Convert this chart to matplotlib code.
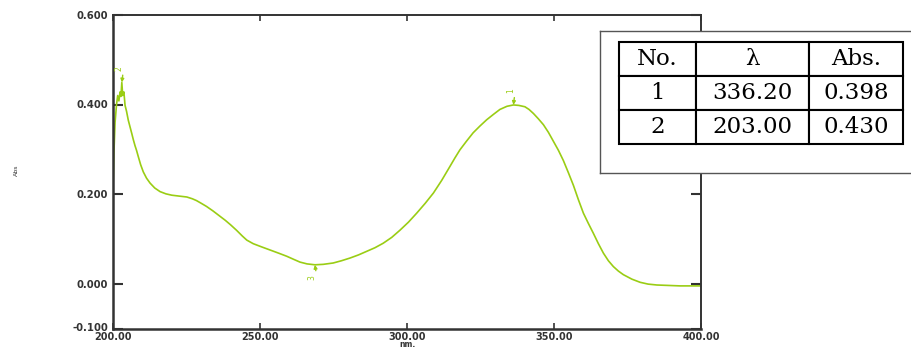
import numpy as np
import matplotlib.pyplot as plt
from matplotlib.transforms import ScaledTranslation

# spectrum (nm, Abs)
wavelength = [200.0, 200.3, 200.7, 201.2, 201.6, 202.0, 202.4, 202.7, 203.0, 203.3,
              203.7, 204.1, 204.6, 205.2, 205.8, 206.4, 206.9, 207.5, 208.0, 208.6,
              209.4, 210.3, 211.4, 212.6, 214.2, 216.0, 218.0, 220.0, 222.5, 225.1,
              227.0, 228.4, 230.0, 231.8, 234.0, 236.4, 238.2, 240.0, 242.0, 244.0,
              245.5, 247.7, 250.5, 253.4, 256.3, 259.1, 261.5, 263.6, 266.0, 268.7,
              271.5, 274.9, 277.7, 280.6, 283.5, 286.3, 289.1, 291.9, 294.8, 297.6,
              300.5, 303.3, 306.2, 309.0, 311.8, 314.6, 316.3, 318.0, 320.2, 322.5,
              324.8, 327.1, 329.4, 331.6, 334.0, 336.2, 338.0, 340.1, 341.5, 343.0,
              344.7, 346.4, 348.1, 349.8, 351.5, 353.2, 354.9, 356.6, 358.3, 360.0,
              361.7, 363.4, 365.1, 366.8, 368.5, 370.2, 371.9, 373.6, 376.5, 379.3,
              382.0, 385.0, 389.0, 392.9, 396.0, 400.0]
absorbance = [0.210, 0.290, 0.360, 0.400, 0.420, 0.408, 0.428, 0.418, 0.449, 0.420,
              0.428, 0.398, 0.385, 0.365, 0.350, 0.335, 0.322, 0.308, 0.298, 0.284,
              0.266, 0.250, 0.236, 0.225, 0.214, 0.206, 0.201, 0.198, 0.196, 0.194,
              0.190, 0.186, 0.180, 0.173, 0.163, 0.151, 0.142, 0.132, 0.120, 0.107,
              0.098, 0.090, 0.083, 0.076, 0.069, 0.062, 0.055, 0.049, 0.045, 0.043,
              0.044, 0.047, 0.052, 0.058, 0.065, 0.073, 0.081, 0.091, 0.104, 0.120,
              0.138, 0.158, 0.180, 0.203, 0.231, 0.262, 0.281, 0.299, 0.318, 0.337,
              0.352, 0.366, 0.378, 0.389, 0.396, 0.399, 0.398, 0.395, 0.389, 0.380,
              0.368, 0.355, 0.338, 0.318, 0.298, 0.275, 0.248, 0.220, 0.188, 0.158,
              0.135, 0.113, 0.090, 0.069, 0.052, 0.039, 0.029, 0.021, 0.011, 0.004,
              0.000, -0.002, -0.003, -0.004, -0.004, -0.004]

# picked peaks / valley
pick_no = ['1', '2', '3']
pick_nm = [336.2, 203.0, 268.7]
pick_abs = [0.399, 0.449, 0.043]
pick_is_valley = [False, False, True]

# peak table
table_header = ['No.', 'λ', 'Abs.']
table_rows = [['1', '336.20', '0.398'],
              ['2', '203.00', '0.430']]

x_ticks = [200, 250, 300, 350, 400]
y_ticks = [-0.1, 0.0, 0.2, 0.4, 0.6]

line_color = '#9acd14'
axis_color = '#333333'

fig = plt.figure(figsize=(9.11, 3.49), dpi=100)
ax = fig.add_axes([113 / 911, 20 / 349, 588 / 911, 314.3 / 349])

ax.plot(wavelength, absorbance, color=line_color, lw=1.2)

for no, nm, val, valley in zip(pick_no, pick_nm, pick_abs, pick_is_valley):
    off = -9 if valley else 10
    ax.annotate(no, xy=(nm, val), xytext=(-2, off),
                textcoords='offset points', rotation=90, fontsize=5.5,
                color=line_color, ha='center', va='center',
                arrowprops=dict(arrowstyle='-|>', color=line_color, lw=1.0,
                                mutation_scale=5, shrinkA=1, shrinkB=0,
                                relpos=(1.0, 0.5)))

ax.set_xlim(200, 400)
ax.set_ylim(-0.1, 0.6)
ax.set_xticks(x_ticks)
ax.set_xticklabels(['%.2f' % v for v in x_ticks])
ax.set_yticks(y_ticks)
ax.set_yticklabels(['%.3f' % v for v in y_ticks])

for s in ax.spines.values():
    s.set_color(axis_color)
    s.set_linewidth(1.4)
ax.spines['left'].set_linewidth(1.8)
ax.spines['bottom'].set_linewidth(1.8)

ax.tick_params(axis='y', direction='in', length=7, width=1.5, right=True,
               pad=3.5, labelsize=7.2, colors=axis_color)
ax.tick_params(axis='x', direction='in', length=4, width=1.2, top=True,
               pad=2, labelsize=7, colors=axis_color)
for lbl in ax.get_xticklabels() + ax.get_yticklabels():
    lbl.set_fontweight('bold')
# nudge the bottom y label up a touch so it clears "200.00"
low = ax.get_yticklabels()[0]
low.set_transform(low.get_transform() + ScaledTranslation(0, 2 / 100, fig.dpi_scale_trans))

# axis titles (the x one sits right at the bottom edge)
fig.text(407 / 911, 0, 'nm.', fontsize=5.5, color=axis_color,
         fontweight='bold', ha='center', va='bottom')
fig.text(16 / 911, 1 - 170 / 349, 'Abs', rotation=90, fontsize=4.5,
         ha='center', va='center', color=axis_color)

# boxed peak table, overlapping the plot and running off the right edge
tab_ax = fig.add_axes([600 / 911, 1 - 172.7 / 349, 330 / 911, 142 / 349])
tab_ax.set_facecolor('white')
tab_ax.set_xticks([])
tab_ax.set_yticks([])
for s in tab_ax.spines.values():
    s.set_color('#555555')
    s.set_linewidth(1.0)

tbl = tab_ax.table(cellText=table_rows, colLabels=table_header,
                   colWidths=[77, 113, 94], cellLoc='center',
                   bbox=[19 / 330, 1 - 113.3 / 142, 284 / 330, 102 / 142])
tbl.auto_set_font_size(False)
for (r, c), cell in tbl.get_celld().items():
    cell.set_linewidth(1.5)
    cell.set_edgecolor('black')
    cell.get_text().set_fontsize(16.5)
    cell.get_text().set_fontfamily('DejaVu Serif')

fig.savefig('out.png', dpi=100)
